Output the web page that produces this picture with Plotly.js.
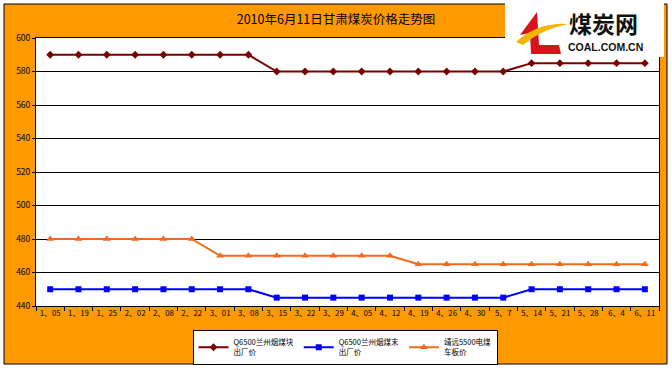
<!DOCTYPE html>
<html>
<head>
<meta charset="utf-8">
<script src="https://cdn.plot.ly/plotly-3.0.1.min.js"></script>
<style>html,body{margin:0;padding:0;background:#fff;}#chart{width:672px;height:369px;}</style>
</head>
<body>
<div id="chart"></div>
<script>
var categories = ["1、05","1、19","1、25","2、02","2、08","2、22","3、01","3、08","3、15","3、22","3、29","4、05","4、12","4、19","4、26","4、30","5、7","5、14","5、21","5、28","6、4","6、11"];
var lumpPrice = [590,590,590,590,590,590,590,590,580,580,580,580,580,580,580,580,580,585,585,585,585,585];
var finePrice = [450,450,450,450,450,450,450,450,445,445,445,445,445,445,445,445,445,450,450,450,450,450];
var jingyuanPrice = [480,480,480,480,480,480,470,470,470,470,470,470,470,465,465,465,465,465,465,465,465,465];
var seriesNames = ["Q6500兰州烟煤块<br>出厂价","Q6500兰州烟煤末<br>出厂价","靖远5500电煤<br>车板价"];
var yTicks = [440,460,480,500,520,540,560,580,600];

var L = 36, R = 659, T = 38, B = 306;
function X(px){ return (px - L) / (R - L); }
function Y(py){ return (B - py) / (B - T); }
var FONT = "'Noto Sans CJK SC', 'DejaVu Sans', sans-serif";

var traces = [
  {x: categories, y: lumpPrice, name: seriesNames[0], type: 'scatter', mode: 'lines+markers',
   line: {color: '#7A0000', width: 2}, marker: {symbol: 'diamond', size: 6, color: '#7A0000'}},
  {x: categories, y: finePrice, name: seriesNames[1], type: 'scatter', mode: 'lines+markers',
   line: {color: '#0000FF', width: 2}, marker: {symbol: 'square', size: 6, color: '#0000FF'}},
  {x: categories, y: jingyuanPrice, name: seriesNames[2], type: 'scatter', mode: 'lines+markers',
   line: {color: '#F26A1B', width: 2}, marker: {symbol: 'triangle-up', size: 7, color: '#F26A1B'}}
];

var layout = {
  width: 672, height: 369,
  margin: {l: L, r: 672 - R, t: T, b: 369 - B, pad: 0, autoexpand: false},
  paper_bgcolor: '#FFFFFF',
  plot_bgcolor: 'rgba(0,0,0,0)',
  font: {family: FONT, size: 8, color: '#000'},
  title: {text: '2010年6月11日甘肃煤炭价格走势图', font: {family: FONT, size: 12.5, color: '#000'},
          x: 336/672, xref: 'container', xanchor: 'center', y: 1 - 20/369, yref: 'container', yanchor: 'middle'},
  showlegend: true,
  legend: {orientation: 'h', xref: 'container', yref: 'container', x: 345/672, xanchor: 'center', y: 1 - 330/369, yanchor: 'top',
           bgcolor: '#FFFFFF', bordercolor: '#000', borderwidth: 1,
           font: {family: FONT, size: 7.5, color: '#000'}, itemwidth: 30, tracegroupgap: 0},
  xaxis: {type: 'category', range: [-0.5, categories.length - 0.5], showgrid: false, zeroline: false,
          showline: true, linecolor: '#000', linewidth: 1, mirror: true,
          ticks: 'outside', tickson: 'boundaries', ticklen: 4, tickcolor: '#000', tickangle: 0,
          tickfont: {family: FONT, size: 7.8, color: '#000'}, fixedrange: true},
  yaxis: {range: [440, 600], tickvals: yTicks, ticktext: yTicks.map(String), showgrid: true,
          gridcolor: '#000', gridwidth: 1, zeroline: false,
          showline: true, linecolor: '#000', linewidth: 1, mirror: true,
          ticks: 'outside', ticklen: 3, tickcolor: '#000',
          tickfont: {family: FONT, size: 8.5, color: '#000'}, fixedrange: true},
  shapes: [
    {type: 'rect', xref: 'paper', yref: 'paper', x0: X(4), x1: X(667), y0: Y(364), y1: Y(4),
     fillcolor: '#FF9900', line: {color: '#000', width: 1}, layer: 'below'},
    {type: 'rect', xref: 'paper', yref: 'paper', x0: 0, x1: 1, y0: 0, y1: 1,
     fillcolor: '#FFFFFF', line: {width: 0}, layer: 'below'},
    {type: 'rect', xref: 'paper', yref: 'paper', x0: X(505), x1: X(664), y0: Y(57), y1: Y(-2),
     fillcolor: '#FFFFFF', line: {width: 0}, layer: 'above'},
    {type: 'path', xref: 'paper', yref: 'paper', layer: 'above', fillcolor: '#D8141B', line: {width: 0},
     path: 'M' + X(537) + ',' + Y(12) + ' L' + X(520) + ',' + Y(35) + ' L' + X(530) + ',' + Y(33) +
           ' L' + X(531) + ',' + Y(54) + ' L' + X(561) + ',' + Y(54) + ' L' + X(559) + ',' + Y(45) +
           ' L' + X(539) + ',' + Y(45) + ' Z'},
    {type: 'path', xref: 'paper', yref: 'paper', layer: 'above', fillcolor: '#F4B400', line: {width: 0},
     path: 'M' + X(516) + ',' + Y(42) + ' Q' + X(538) + ',' + Y(22) + ' ' + X(568) + ',' + Y(24) +
           ' Q' + X(542) + ',' + Y(29) + ' ' + X(523) + ',' + Y(45) + ' Z'}
  ],
  annotations: [
    {text: '<b>煤炭网</b>', xref: 'paper', yref: 'paper', x: X(603), y: Y(23), xanchor: 'center', yanchor: 'middle',
     showarrow: false, font: {family: FONT, size: 23, color: '#111'}},
    {text: '<b>COAL.COM.CN</b>', xref: 'paper', yref: 'paper', x: X(605), y: Y(47), xanchor: 'center', yanchor: 'middle',
     showarrow: false, font: {family: "'Liberation Sans', Arial, sans-serif", size: 10.5, color: '#111'}}
  ]
};

Plotly.newPlot('chart', traces, layout, {displayModeBar: false, staticPlot: true});
</script>
</body>
</html>
